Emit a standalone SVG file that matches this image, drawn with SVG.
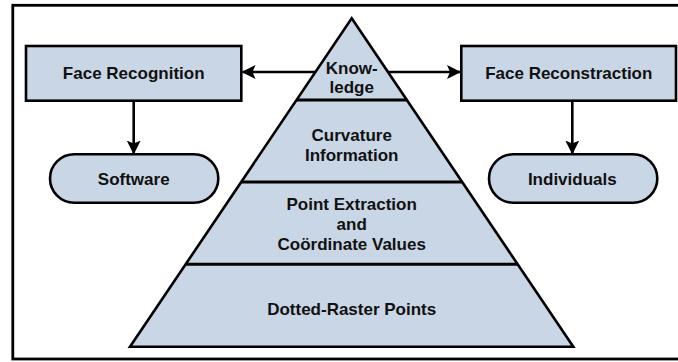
<svg xmlns="http://www.w3.org/2000/svg" width="678" height="362" viewBox="0 0 678 362">
  <style>
    .shape { fill: #c9d6e5; stroke: #000; stroke-width: 2.6; stroke-linejoin: miter; }
    .band { fill: none; stroke: #000; stroke-width: 3; }
    .wire { fill: none; stroke: #000; stroke-width: 2.6; }
    .label { font-family: "Liberation Sans", Arial, sans-serif; font-weight: bold; font-size: 17px; fill: #111; text-anchor: middle; }
  </style>
  <defs>
    <marker id="arrowhead" markerUnits="userSpaceOnUse" markerWidth="14" markerHeight="14" viewBox="0 0 14 14" refX="13" refY="7" orient="auto">
      <path d="M0,0 L14,7 L0,14 L3,7 Z" fill="#000"/>
    </marker>
  </defs>

  <!-- outer frame -->
  <rect x="12.8" y="5.3" width="680" height="353.7" fill="#fff" stroke="#000" stroke-width="2.8"/>

  <!-- connectors -->
  <g id="connectors">
    <line class="wire" x1="316" y1="72" x2="242.5" y2="72" marker-end="url(#arrowhead)"/>
    <line class="wire" x1="388" y1="72" x2="460" y2="72" marker-end="url(#arrowhead)"/>
    <line class="wire" x1="133.7" y1="101" x2="133.7" y2="153.5" marker-end="url(#arrowhead)"/>
    <line class="wire" x1="572.3" y1="101" x2="572.3" y2="153.5" marker-end="url(#arrowhead)"/>
  </g>

  <!-- pyramid -->
  <g id="pyramid">
    <polygon class="shape" points="351.7,18.3 573.3,346.7 130,346.7"/>
    <line class="band" x1="297" y1="100" x2="406.5" y2="100"/>
    <line class="band" x1="241.5" y1="182" x2="462" y2="182"/>
    <line class="band" x1="186" y1="264.3" x2="517.5" y2="264.3"/>
  </g>
  <g id="knowledge">
    <text class="label" x="351.7" y="73.5">Know-</text>
    <text class="label" x="351.7" y="92.5">ledge</text>
  </g>
  <g id="curvature">
    <text class="label" x="351.7" y="141">Curvature</text>
    <text class="label" x="351.7" y="160.5">Information</text>
  </g>
  <g id="point-extraction">
    <text class="label" x="351.7" y="209.5">Point Extraction</text>
    <text class="label" x="351.7" y="229.5">and</text>
    <text class="label" x="351.7" y="249.5">Coördinate Values</text>
  </g>
  <g id="dotted-raster">
    <text class="label" x="351.7" y="314.5">Dotted-Raster Points</text>
  </g>

  <!-- side boxes -->
  <g id="face-recognition">
    <rect class="shape" x="26" y="46" width="215.3" height="54.7"/>
    <text class="label" x="133.7" y="78.5">Face Recognition</text>
  </g>
  <g id="face-reconstraction">
    <rect class="shape" x="461.3" y="46" width="214.7" height="54.7"/>
    <text class="label" x="568.8" y="78.5">Face Reconstraction</text>
  </g>
  <g id="software">
    <rect class="shape" x="50" y="154.3" width="168.3" height="48.4" rx="24.2"/>
    <text class="label" x="133.7" y="184.5">Software</text>
  </g>
  <g id="individuals">
    <rect class="shape" x="489" y="154.3" width="168.3" height="48.4" rx="24.2"/>
    <text class="label" x="572.3" y="184.5">Individuals</text>
  </g>
</svg>
